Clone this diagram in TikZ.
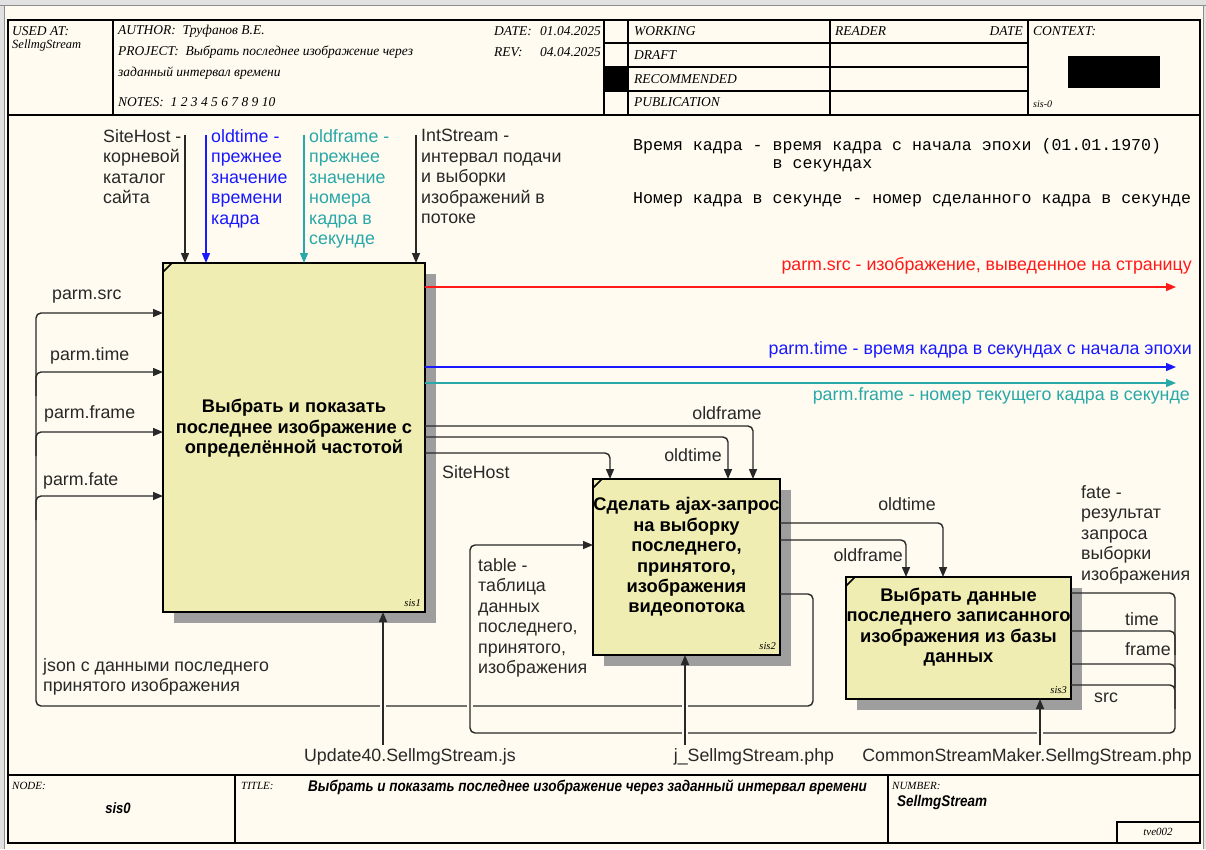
\documentclass[tikz,border=0pt]{standalone}
\usepackage{fontspec}
\setmainfont{Liberation Sans}
\setmonofont{Liberation Mono}
\newfontfamily\hdrfont{Liberation Serif}
\newfontfamily\narrowfont[FakeStretch=0.87]{Liberation Sans}
\usetikzlibrary{arrows.meta,patterns,shadows}

\definecolor{paper}{RGB}{255,251,240}
\definecolor{boxfill}{RGB}{239,237,178}
\definecolor{ink}{RGB}{40,40,40}
\definecolor{srcred}{RGB}{255,25,25}
\definecolor{timeblue}{RGB}{25,25,255}
\definecolor{frameteal}{RGB}{40,168,168}
\definecolor{chrome}{RGB}{225,225,225}

\tikzset{
  func/.style={draw=black, line width=2.2pt, fill=boxfill, anchor=north west, inner sep=0pt, outer sep=0pt,
    drop shadow={shadow xshift=11pt, shadow yshift=-11pt, opacity=1, fill=black!38}},
  functext/.style={font=\bfseries\fontsize{18.3}{20.4}\selectfont, align=center, inner sep=0pt, text=black},
  lbl/.style={font=\fontsize{17.8}{20.5}\selectfont, inner sep=0pt, align=left, anchor=north west, text=ink},
  lbltag/.style={font=\fontsize{17.8}{20.5}\selectfont, inner sep=0pt, text=ink},
  notes/.style={font=\ttfamily\fontsize{16.6}{18}\selectfont, inner sep=0pt, align=left, anchor=west},
  hdr/.style={font=\hdrfont\itshape\fontsize{13.5}{15}\selectfont, inner sep=0pt, anchor=west},
  ftr/.style={font=\hdrfont\itshape\fontsize{11}{12}\selectfont, inner sep=0pt, anchor=west},
  titletext/.style={font=\narrowfont\bfseries\itshape\fontsize{15.5}{16}\selectfont, inner sep=0pt, anchor=west},
  sislbl/.style={font=\hdrfont\itshape\fontsize{10.5}{12}\selectfont, inner sep=0pt, anchor=south east},
  frameline/.style={draw=black, line width=1.3pt},
  conn/.style={draw=ink, line width=1.4pt, rounded corners=5pt},
  arr/.style={conn, -{Triangle[length=10pt,width=8pt]}}
}

\begin{document}
\begin{tikzpicture}[x=1pt,y=-1pt]
\useasboundingbox (0,0) rectangle (1206,849);
\fill[paper] (0,0) rectangle (1206,849);
\fill[chrome] (0,0) rectangle (1206,5);
\fill[chrome] (0,0) rectangle (4,849);
\fill[chrome] (1203,0) rectangle (1206,849);
\draw[black!45, line width=0.8pt] (0,5) -- (1206,5) (4,5) -- (4,849) (1203,5) -- (1203,849);

\draw[frameline] (8,20) rectangle (1200,843);
\draw[frameline] (8,115) -- (1200,115) (8,775) -- (1200,775);
\draw[frameline] (113,20) -- (113,115) (604,20) -- (604,115) (628,20) -- (628,115) (830,20) -- (830,115) (1028,20) -- (1028,115);
\foreach \yy in {43,67,91} \draw[frameline] (604,\yy) -- (1028,\yy);
\fill (604,67) rectangle (628,91);
\fill (1068,56) rectangle (1160,88);
\draw[frameline] (235,775) -- (235,843) (888,775) -- (888,843);
\draw[frameline] (1117,843) |- (1200,822);

\node[hdr] (usedat) at (12,31) {USED AT:};
\node[hdr, font=\hdrfont\itshape\fontsize{12.5}{13}\selectfont] (usedin) at (12,45) {SellmgStream};
\node[hdr] (author) at (118,31) {AUTHOR:\enspace Труфанов В.Е.};
\node[hdr] (project) at (118,52) {PROJECT:\enspace Выбрать последнее изображение через};
\node[hdr] (project2) at (118,73) {заданный интервал времени};
\node[hdr] (notesrow) at (118,102) {NOTES:\enspace 1 2 3 4 5 6 7 8 9 10};
\node[hdr] (date) at (494,31) {DATE:};
\node[hdr] (dateval) at (540,31) {01.04.2025};
\node[hdr] (rev) at (494,52) {REV:};
\node[hdr] (revval) at (540,52) {04.04.2025};
\node[hdr] (working) at (634,31) {WORKING};
\node[hdr] (draft) at (634,55) {DRAFT};
\node[hdr] (recommended) at (634,79) {RECOMMENDED};
\node[hdr] (publication) at (634,102) {PUBLICATION};
\node[hdr] (reader) at (835,31) {READER};
\node[hdr, anchor=east] (readerdate) at (1023,31) {DATE};
\node[hdr] (context) at (1033,31) {CONTEXT:};
\node[hdr, font=\hdrfont\itshape\fontsize{10}{11}\selectfont] (contextnode) at (1033,104) {sis-0};

\node[ftr] (nodehd) at (12,786) {NODE:};
\node[font=\narrowfont\bfseries\itshape\fontsize{15}{16}\selectfont, inner sep=0pt] (nodeval) at (118,808) {sis0};
\node[ftr] (titlehd) at (241,786) {TITLE:};
\node[titletext] (title) at (308,787) {Выбрать и показать последнее изображение через заданный интервал времени};
\node[ftr] (numberhd) at (892,786) {NUMBER:};
\node[titletext] (numberval) at (897,802) {SellmgStream};
\node[ftr, anchor=center] (tve) at (1158,832) {tve002};

\node[func, minimum width=262pt, minimum height=349pt] (b1) at (163,263) {};
\node[func, minimum width=187pt, minimum height=176pt] (b2) at (593,479) {};
\node[func, minimum width=225pt, minimum height=122pt] (b3) at (846,577) {};
\node[functext] (t1) at ([yshift=9pt]b1.center) {Выбрать и показать\\последнее изображение с\\определённой частотой};
\node[functext] (t2) at ([yshift=10pt]b2.center) {Сделать ajax-запрос\\на выборку\\последнего,\\принятого,\\изображения\\видеопотока};
\node[functext] (t3) at ([yshift=11pt]b3.center) {Выбрать данные\\последнего записанного\\изображения из базы\\данных};
\node[sislbl] (s1) at ([shift={(-4,-5)}]b1.south east) {sis1};
\node[sislbl] (s2) at ([shift={(-4,-5)}]b2.south east) {sis2};
\node[sislbl] (s3) at ([shift={(-4,-5)}]b3.south east) {sis3};
\foreach \b in {b1,b2,b3} \draw[line width=1.6pt] ([yshift=-9pt]\b.north west) -- ([xshift=9pt]\b.north west);

\coordinate (inSite) at (185,135);
\coordinate (inTime) at (206,135);
\coordinate (inFrame) at (304,135);
\coordinate (inStream) at (416,135);
\draw[arr] (inSite) -- (inSite |- b1.north);
\draw[arr, draw=timeblue] (inTime) -- (inTime |- b1.north);
\draw[arr, draw=frameteal] (inFrame) -- (inFrame |- b1.north);
\draw[arr] (inStream) -- (inStream |- b1.north);
\node[lbl] (lSite) at (103,129) {SiteHost -\\корневой\\каталог\\сайта};
\node[lbl, text=timeblue] (lTime) at (211,129) {oldtime -\\прежнее\\значение\\времени\\кадра};
\node[lbl, text=frameteal] (lFrame) at (309,129) {oldframe -\\прежнее\\значение\\номера\\кадра в\\секунде};
\node[lbl] (lStream) at (421,129) {IntStream -\\интервал подачи\\и выборки\\изображений в\\потоке};

\node[notes, anchor=north west] (nTime) at (633,138) {Время кадра - время кадра с начала эпохи (01.01.1970)\\\phantom{Время кадра - }в секундах};
\node[notes] (nFrame) at (633,200) {Номер кадра в секунде - номер сделанного кадра в секунде};

\coordinate (outSrc) at (1176,287);
\coordinate (outTime) at (1176,367);
\coordinate (outFrame) at (1176,383);
\draw[arr, draw=srcred] (b1.east |- outSrc) -- (outSrc);
\draw[arr, draw=timeblue] (b1.east |- outTime) -- (outTime);
\draw[arr, draw=frameteal] (b1.east |- outFrame) -- (outFrame);
\node[lbltag, text=srcred, anchor=east] (lOutSrc) at (1192,266) {parm.src - изображение, выведенное на страницу};
\node[lbltag, text=timeblue, anchor=east] (lOutTime) at (1192,350) {parm.time - время кадра в секундах с начала эпохи};
\node[lbltag, text=frameteal, anchor=east] (lOutFrame) at (1190,396) {parm.frame - номер текущего кадра в секунде};

\draw[arr] (b1.east |- 0,426) -| (753,0 |- b2.north);
\draw[arr] (b1.east |- 0,437) -| (728,0 |- b2.north);
\draw[arr] (b1.east |- 0,453) -| (610,0 |- b2.north);
\node[lbltag] (lOldFrame1) at (727,413) {oldframe};
\node[lbltag] (lOldTime1) at (693,455) {oldtime};
\node[lbltag, anchor=west] (lSite2) at (442,472) {SiteHost};

\draw[arr] (b2.east |- 0,523) -| (943,0 |- b3.north);
\draw[arr] (b2.east |- 0,540) -| (906,0 |- b3.north);
\node[lbltag] (lOldTime2) at (907,504) {oldtime};
\node[lbltag, anchor=east] (lOldFrame2) at (903,555) {oldframe};

\draw[arr] (b2.east |- 0,594) -- (813,594) -- (813,706) -- (36,706) -- (36,313) -- (b1.west |- 0,313);
\foreach \yy in {372,432,496} \draw[arr] (36,\yy+24) -- (36,\yy) -- (b1.west |- 0,\yy);
\node[lbltag, anchor=west] (lSrc) at (52,297) {parm.src};
\node[lbltag, anchor=west] (lTimeIn) at (50,356) {parm.time};
\node[lbltag, anchor=west] (lFrameIn) at (44,414) {parm.frame};
\node[lbltag, anchor=west] (lFate) at (43,481) {parm.fate};
\node[lbl] (lJson) at (43,658) {json с данными последнего\\принятого изображения};
\foreach \xx in {383,470,685} \fill[paper] (\xx-3,703) rectangle (\xx+3,709);

\draw[arr] (b3.east |- 0,593) -- (1175,593) -- (1175,733) -- (470,733) -- (470,545) -- (b2.west |- 0,545);
\foreach \yy in {631,664,685} \draw[conn] (b3.east |- 0,\yy) -- (1175,\yy) -- (1175,\yy+24);
\node[lbl] (lFateOut) at (1081,485) {fate -\\результат\\запроса\\выборки\\изображения};
\node[lbltag, anchor=west] (lTimeOut) at (1125,619) {time};
\node[lbltag, anchor=west] (lFrameOut) at (1125,649) {frame};
\node[lbltag, anchor=west] (lSrcOut) at (1094,698) {src};
\node[lbl] (lTable) at (478,558) {table -\\таблица\\данных\\последнего,\\принятого,\\изображения};
\foreach \xx in {685,1040} \fill[paper] (\xx-3,730) rectangle (\xx+3,736);

\coordinate (mUpd) at (383,745);
\coordinate (mJs) at (685,745);
\coordinate (mCommon) at (1040,745);
\draw[arr] (mUpd) -- (mUpd |- b1.south);
\draw[arr] (mJs) -- (mJs |- b2.south);
\draw[arr] (mCommon) -- (mCommon |- b3.south);
\node[lbltag] (lUpd) at (410,757) {Update40.SellmgStream.js};
\node[lbltag] (lJs) at (754,757) {j\_SellmgStream.php};
\node[lbltag] (lCommon) at (1027,757) {CommonStreamMaker.SellmgStream.php};
\end{tikzpicture}
\end{document}
